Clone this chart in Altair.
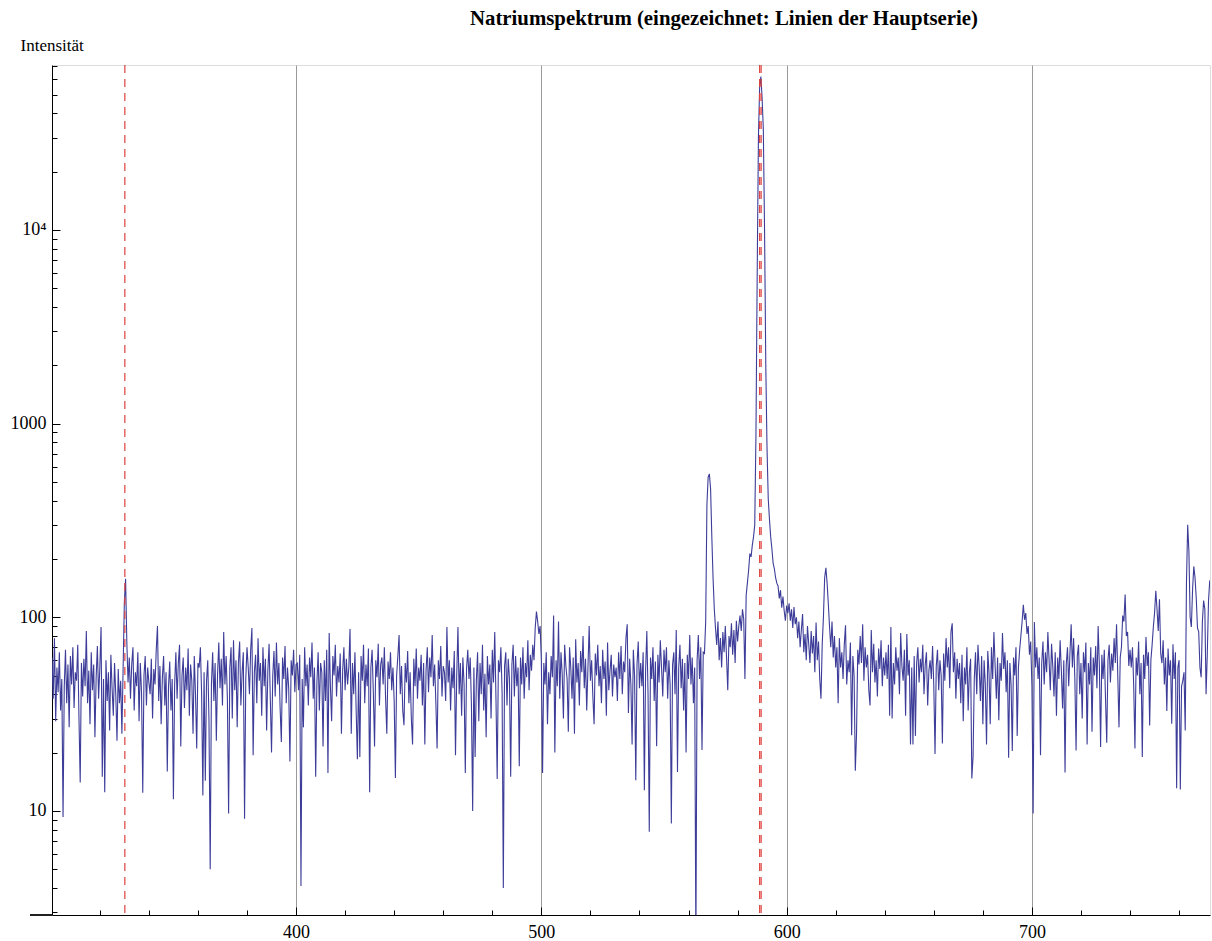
import altair as alt
import pandas as pd

# Intensity samples, 0.5 nm apart; each list gives its start wavelength
seg_300 = [62, 38, 78, 29, 55, 41, 66, 33, 48, 9.3, 44, 68, 36, 57, 27, 63, 45, 70, 34, 52,
           47, 72, 30, 14, 58, 39, 61, 44, 85, 36, 53, 28, 66, 42, 57, 24, 49, 71, 38, 55,
           89, 15, 48, 12.5, 60, 37, 52, 26, 64, 43, 31, 58, 40, 23, 54, 36, 47, 25, 55, 120,
           158, 75, 46, 62, 38, 57, 70, 33, 52, 44, 66, 29, 58, 41, 12.4, 50, 63, 35, 55, 46,
           40, 61, 30, 54, 45, 68, 90, 37, 56, 28, 49, 63, 35, 52, 16, 44, 59, 33, 48, 11.5]
seg_350 = [45, 66, 38, 58, 72, 21.5, 50, 62, 34, 55, 42, 69, 31, 57, 47, 25, 63, 40, 21, 58,
           55, 70, 40, 12, 52, 14.3, 47, 60, 29, 5.0, 45, 66, 37, 58, 23, 51, 74, 43, 61, 35,
           84, 45, 63, 38, 9.7, 55, 70, 30, 76, 42, 60, 27, 58, 75, 35, 52, 66, 9.1, 48, 70,
           55, 40, 68, 88, 19.4, 52, 64, 36, 78, 47, 58, 31, 70, 44, 61, 26, 53, 73, 38, 20,
           50, 67, 39, 74, 45, 58, 34, 22.7, 62, 48, 71, 36, 55, 43, 18, 60, 50, 68, 41, 57]
seg_400 = [58, 42, 64, 4.1, 48, 27, 70, 44, 57, 35, 62, 49, 74, 38, 55, 15, 46, 66, 33, 58,
           52, 21.5, 60, 37, 68, 15.7, 83, 44, 29, 63, 50, 72, 39, 56, 46, 65, 25, 53, 70, 42,
           61, 45, 55, 87, 25, 58, 40, 66, 33, 18.5, 52, 19, 63, 47, 72, 36, 57, 44, 69, 12.5,
           55, 68, 41, 21.5, 60, 49, 73, 35, 57, 62, 45, 70, 38, 25, 59, 48, 66, 42, 55, 37,
           14.8, 50, 63, 81, 40, 56, 33, 27.7, 58, 46, 67, 36, 52, 30, 22, 61, 44, 69, 38, 55]
seg_450 = [47, 64, 35, 58, 22, 53, 70, 41, 62, 49, 81, 44, 57, 36, 21, 60, 48, 71, 39, 56,
           52, 37, 89, 46, 60, 33, 55, 43, 67, 19.4, 50, 89, 40, 58, 31, 62, 45, 15.7, 54, 68,
           48, 62, 35, 10, 55, 19, 47, 66, 29, 58, 40, 72, 33, 51, 24, 63, 45, 57, 30, 68,
           46, 84, 38, 14.6, 60, 52, 70, 41, 4.0, 56, 66, 35, 61, 48, 15, 57, 72, 39, 63, 44,
           55, 17, 62, 45, 70, 38, 58, 49, 76, 42, 64, 53, 72, 60, 88, 107, 95, 82, 90, 60]
seg_500 = [15.7, 58, 45, 66, 28, 52, 40, 63, 49, 102, 20, 60, 44, 95, 38, 66, 51, 30, 72, 56,
           48, 25.6, 70, 55, 38, 62, 25, 77, 46, 58, 35, 67, 52, 80, 43, 61, 33, 55, 90, 47,
           60, 39, 28, 65, 50, 72, 44, 56, 36, 68, 48, 59, 31, 74, 42, 53, 64, 39, 57, 49,
           55, 37, 66, 48, 71, 40, 59, 52, 78, 92, 32, 61, 45, 22, 68, 50, 14.4, 57, 75, 43,
           58, 44, 66, 12.8, 53, 85, 40, 7.8, 62, 48, 70, 37, 59, 21.6, 64, 46, 76, 55, 39, 68]
seg_550 = [52, 70, 38, 60, 45, 8.6, 57, 66, 40, 86, 15.9, 55, 72, 43, 61, 33, 58, 20, 64, 48,
           81, 45, 62, 36, 55, 2.0, 60, 81, 48, 70, 20.6, 66, 65, 95, 380, 530, 550, 460, 260, 160,
           111, 88, 72, 95, 60, 78, 55, 84, 66, 90, 62, 42, 80, 70, 93, 64, 86, 58, 96, 75,
           90, 102, 85, 110, 98, 48, 130, 150, 175, 213, 205, 235, 260, 300, 900, 6000, 30000, 55000, 62000, 48000,
           33000, 10000, 2000, 750, 410, 320, 260, 225, 190, 178, 160, 150, 145, 125, 138, 112, 128, 108, 96, 115]
seg_600 = [105, 118, 96, 110, 88, 113, 92, 100, 78, 95, 70, 86, 104, 66, 82, 60, 90, 73, 58, 85,
           65, 80, 52, 94, 60, 75, 48, 38, 72, 100, 160, 180, 150, 117, 89, 70, 95, 62, 80, 55,
           70, 36, 78, 55, 66, 48, 72, 91, 45, 60, 52, 74, 24.6, 63, 50, 16.1, 25, 68, 57, 80,
           58, 92, 47, 70, 55, 64, 42, 35, 86, 52, 73, 46, 60, 39, 69, 54, 76, 44, 62, 50,
           66, 48, 72, 31, 89, 30, 58, 45, 70, 53, 62, 40, 83, 56, 47, 68, 31, 82, 50, 60]
seg_650 = [22, 55, 22, 63, 24.4, 58, 70, 46, 61, 52, 72, 40, 57, 66, 35, 53, 60, 48, 71, 44,
           19.7, 56, 68, 42, 60, 50, 22.3, 65, 47, 78, 55, 70, 43, 84, 93, 52, 66, 38, 61, 48,
           58, 36, 64, 29, 55, 45, 70, 33, 52, 61, 14.7, 19, 48, 66, 40, 72, 55, 37, 63, 28,
           60, 45, 22, 67, 52, 28, 70, 48, 84, 56, 38, 62, 29.4, 58, 47, 83, 54, 66, 41, 60,
           18.8, 58, 45, 20.4, 62, 50, 70, 24.4, 55, 68, 80, 95, 116, 97, 105, 82, 90, 64, 75, 44]
seg_700 = [9.7, 94.5, 55, 70, 48, 62, 19.4, 58, 75, 45, 66, 52, 84, 60, 42, 73, 56, 39, 66, 31,
           62, 48, 76, 53, 33.8, 60, 15.8, 57, 70, 44, 65, 92, 55, 78, 48, 20.5, 63, 72, 40, 58,
           30, 66, 52, 74, 22, 58, 45, 70, 25.6, 62, 50, 71, 43, 90, 56, 21.4, 64, 48, 68, 38,
           22.5, 60, 72, 46, 65, 53, 78, 58, 92, 50, 27, 62, 70, 102, 95, 131, 80, 84, 56, 68,
           55, 70, 44, 21, 62, 50, 75, 40, 58, 19, 64, 48, 79, 56, 66, 27.6, 60, 72, 89, 105]
seg_750 = [137, 110, 85, 124, 65, 58, 76, 45, 62, 32.8, 69, 50, 60, 28.2, 72.5, 48, 66, 13.1, 55, 60,
           12.9, 44, 47, 52, 26, 150, 300, 220, 100, 89, 140, 183, 160, 125, 88, 84, 55, 49, 95, 122,
           110, 40, 65, 122, 155]

segments = [(300.5, seg_300), (350.5, seg_350), (400.5, seg_400), (450.5, seg_450),
            (500.5, seg_500), (550.5, seg_550), (600.5, seg_600), (650.5, seg_650),
            (700.5, seg_700), (750.5, seg_750)]

na_lines = [330.2, 589.0, 589.6]          # Hauptserie lines (nm)
x_labels = [400, 500, 600, 700]
x_ticks = [320, 340, 360, 380, 400, 420, 440, 460, 480, 500, 520, 540, 560, 580,
           600, 620, 640, 660, 680, 700, 720, 740, 760]
y_labels = [10, 100, 1000, 10000]
y_ticks = [3, 4, 5, 6, 7, 8, 9, 10, 20, 30, 40, 50, 60, 70, 80, 90, 100,
           200, 300, 400, 500, 600, 700, 800, 900, 1000, 2000, 3000, 4000, 5000,
           6000, 7000, 8000, 9000, 10000, 20000, 30000, 40000, 50000, 60000, 70000]

rows = []
for start, vals in segments:
    for i, v in enumerate(vals):
        rows.append({"wl": start + 0.5 * i, "I": v})
df = pd.DataFrame(rows)
lines_df = pd.DataFrame({"wl": na_lines})

W, H = 1158, 850
FONT = "Liberation Serif"
xscale = alt.Scale(domain=[300.5, 772.6], nice=False, zero=False)
yscale = alt.Scale(type="log", domain=[2.9, 71100], nice=False)

spectrum = alt.Chart(df).mark_line(color="#3d3d99", strokeWidth=1.1, clip=True).encode(
    x=alt.X("wl:Q", scale=xscale, axis=alt.Axis(
        orient="bottom", values=x_labels, grid=True, gridColor="#9a9a9a", gridWidth=1,
        ticks=False, domainColor="black", labelFont=FONT, labelFontSize=18,
        labelColor="black", labelPadding=8, title=None)),
    y=alt.Y("I:Q", scale=yscale, axis=alt.Axis(
        orient="left", values=y_labels, grid=False, ticks=False, domainColor="black",
        labelExpr="datum.value == 10000 ? '10⁴' : format(datum.value, 'd')",
        labelFont=FONT, labelFontSize=18, labelColor="black", labelPadding=6,
        title="Intensität", titleAngle=0, titleX=-32, titleY=-15, titleAlign="left",
        titleBaseline="alphabetic", titleFont=FONT, titleFontSize=17,
        titleFontWeight="normal", titleColor="black")),
)

na_rules = alt.Chart(lines_df).mark_rule(color="#e0403c", strokeWidth=1.2, strokeDash=[8, 6]).encode(
    x=alt.X("wl:Q", scale=xscale, axis=None)
)

tick_layer = alt.Chart(df).mark_point(opacity=0).encode(
    x=alt.X("wl:Q", scale=xscale, axis=alt.Axis(
        orient="top", offset=-H, values=x_ticks, labels=False, domain=False, grid=False,
        tickColor="black",
        tickSize={"condition": {"test": "datum.value % 100 == 0", "value": 8}, "value": 5},
        title=None)),
    y=alt.Y("I:Q", scale=yscale, axis=alt.Axis(
        orient="right", offset=-W, values=y_ticks, labels=False, domain=False, grid=False,
        tickColor="black",
        tickSize={"condition": {"test": "datum.value == 10 || datum.value == 100 || datum.value == 1000 || datum.value == 10000", "value": 8}, "value": 5},
        title=None)),
)

axis_ext = alt.Chart(lines_df).mark_rule(color="black", strokeWidth=1).encode(
    x=alt.value(-22), x2=alt.value(0), y=alt.value(H)
)

chart = alt.layer(spectrum, na_rules, tick_layer, axis_ext).resolve_axis(
    x="independent", y="independent"
).properties(
    width=W, height=H,
    padding={"left": 52, "top": 65, "right": 2, "bottom": 26},
    autosize=alt.AutoSizeParams(type="none"),
    title=alt.TitleParams(
        text="Natriumspektrum (eingezeichnet: Linien der Hauptserie)",
        font=FONT, fontSize=20.8, fontWeight="bold", color="black",
        anchor="start", frame="group", dx=418, offset=6),
).configure_view(stroke=None).configure(background="white")

chart.save("out.html", embed_options={"renderer": "svg", "actions": False})
